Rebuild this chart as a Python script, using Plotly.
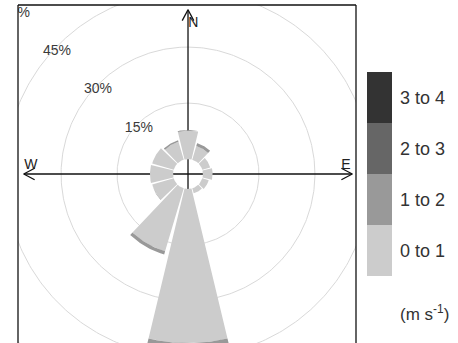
import numpy as np
import plotly.graph_objects as go

# Wind rose: frequency (%) of wind from each 30-degree sector, split by speed bin
directions = [0, 30, 60, 90, 120, 150, 180, 210, 240, 270, 300, 330]
speed_bins = ["0 to 1", "1 to 2", "2 to 3", "3 to 4"]
freq_0_1 = [7.6, 3.8, 2.2, 2.6, 1.8, 1.4, 41.3, 17.6, 6.0, 6.2, 6.0, 5.0]
freq_1_2 = [0.2, 0.8, 0.0, 0.0, 0.0, 0.0, 2.0, 0.9, 0.1, 0.0, 0.0, 0.4]
freq_2_3 = [0.0, 0.0, 0.0, 0.0, 0.0, 0.0, 0.0, 0.0, 0.0, 0.0, 0.0, 0.0]
freq_3_4 = [0.0, 0.0, 0.0, 0.0, 0.0, 0.0, 0.0, 0.0, 0.0, 0.0, 0.0, 0.0]
bin_colours = ["#cccccc", "#999999", "#666666", "#333333"]
grid_levels = [15, 30, 45, 60]
grid_labels = ["15%", "30%", "45%", "60%"]
compass = ["N", "E", "W"]
units_label = "(m s<sup>-1</sup>)"

OFFSET = 4.0        # radius of the central hole, in % units
SECTOR = 30         # sector width in degrees
SEG = 0.9           # fraction of the sector covered by a bar
AXIS_EXT = 44.0     # half-length of the compass axes
LABEL_ANGLE = 313   # bearing of the percentage labels
FONT = "Liberation Sans, Arial, sans-serif"

freqs = [freq_0_1, freq_1_2, freq_2_3, freq_3_4]


def xy(r, bearing_deg):
    t = np.radians(bearing_deg)
    return r * np.sin(t), r * np.cos(t)


def wedge(d, r0, r1, n=40):
    half = SEG * SECTOR / 2
    th = np.linspace(d - half, d + half, n)
    xi, yi = xy(r0, th)
    xo, yo = xy(r1, th)
    xs = np.concatenate([xi, xo[::-1], xi[:1]])
    ys = np.concatenate([yi, yo[::-1], yi[:1]])
    return list(xs), list(ys)


fig = go.Figure()

# grid circles
ring = np.linspace(0, 360, 361)
for lvl in grid_levels:
    cx, cy = xy(OFFSET + lvl, ring)
    fig.add_trace(go.Scatter(x=cx, y=cy, mode="lines",
                             line=dict(color="#d9d9d9", width=1),
                             hoverinfo="skip", showlegend=False))

# compass axes with open arrow heads
ax_x, ax_y = [], []
ax_x += [-AXIS_EXT, AXIS_EXT, None, 0, 0, None]
ax_y += [0, 0, None, -AXIS_EXT, AXIS_EXT, None]
arm, ang = 3.3, np.radians(28)
for bearing in [0, 90, 180, 270]:
    tx, ty = xy(AXIS_EXT, bearing)
    for s in (-1, 1):
        bx, by = xy(AXIS_EXT - arm * np.cos(ang), bearing)
        px, py = xy(arm * np.sin(ang), bearing + 90 * s)
        ax_x += [tx, bx + px, None]
        ax_y += [ty, by + py, None]
fig.add_trace(go.Scatter(x=ax_x, y=ax_y, mode="lines",
                         line=dict(color="#111111", width=1.3),
                         hoverinfo="skip", showlegend=False))

# stacked bars, one trace per speed bin
cum = [0.0] * len(directions)
for name, vals, col in zip(speed_bins, freqs, bin_colours):
    bx, by = [], []
    for i, d in enumerate(directions):
        if vals[i] > 0:
            wx, wy = wedge(d, OFFSET + cum[i], OFFSET + cum[i] + vals[i])
            bx += wx + [None]
            by += wy + [None]
        cum[i] += vals[i]
    if bx:
        fig.add_trace(go.Scatter(x=bx, y=by, mode="lines", fill="toself",
                                 fillcolor=col, line=dict(width=0),
                                 name=name, hoverinfo="skip", showlegend=False))

# percentage labels along the north-west diagonal
lx, ly = xy(np.array(grid_levels, dtype=float) + OFFSET - 1.0, LABEL_ANGLE)
fig.add_trace(go.Scatter(x=lx, y=ly, mode="text", text=grid_labels,
                         textfont=dict(family=FONT, size=14, color="#3a3a3a"),
                         hoverinfo="skip", showlegend=False, cliponaxis=True))

# compass letters
fig.add_trace(go.Scatter(x=[1.4, 42.3, -42.1], y=[40.4, 2.2, 2.4], mode="text",
                         text=compass,
                         textfont=dict(family=FONT, size=14, color="#222222"),
                         hoverinfo="skip", showlegend=False))

# speed key as a stacked column on its own axes
for name, col in zip(speed_bins, bin_colours):
    fig.add_trace(go.Bar(x=[0], y=[1], width=1, marker=dict(color=col, line=dict(width=0)),
                         name=name, xaxis="x2", yaxis="y2",
                         hoverinfo="skip", showlegend=False))

main_w = 338 / 440
fig.update_layout(
    width=458, height=343,
    margin=dict(l=18, r=0, t=5, b=0),
    paper_bgcolor="white", plot_bgcolor="white",
    barmode="stack", bargap=0,
    xaxis=dict(domain=[0, main_w], range=[-45.54, 45.0], visible=False, fixedrange=True),
    yaxis=dict(domain=[0, 1], range=[-45.27, 45.27], visible=False, fixedrange=True),
    xaxis2=dict(domain=[349 / 440, 374 / 440], range=[-0.5, 0.5], visible=False,
                anchor="y2", fixedrange=True),
    yaxis2=dict(domain=[67 / 338, 271 / 338], range=[0, 4], anchor="x2", side="right",
                tickvals=[0.5, 1.5, 2.5, 3.5], ticktext=speed_bins, ticks="",
                showgrid=False, zeroline=False, showline=False, ticklabelstandoff=7,
                tickfont=dict(family=FONT, size=18, color="#333333"), fixedrange=True),
    shapes=[
        dict(type="line", xref="paper", yref="paper", x0=0, x1=0, y0=-0.05, y1=1,
             line=dict(color="#111111", width=1.3)),
        dict(type="line", xref="paper", yref="paper", x0=0, x1=main_w, y0=1, y1=1,
             line=dict(color="#111111", width=1.3)),
        dict(type="line", xref="paper", yref="paper", x0=main_w, x1=main_w, y0=-0.05, y1=1,
             line=dict(color="#111111", width=1.3)),
    ],
    annotations=[
        dict(text=units_label, xref="paper", yref="paper", x=380 / 440, y=30 / 338,
             xanchor="left", yanchor="middle", showarrow=False,
             font=dict(family=FONT, size=17, color="#333333")),
    ],
)

fig.write_html("out.html")
